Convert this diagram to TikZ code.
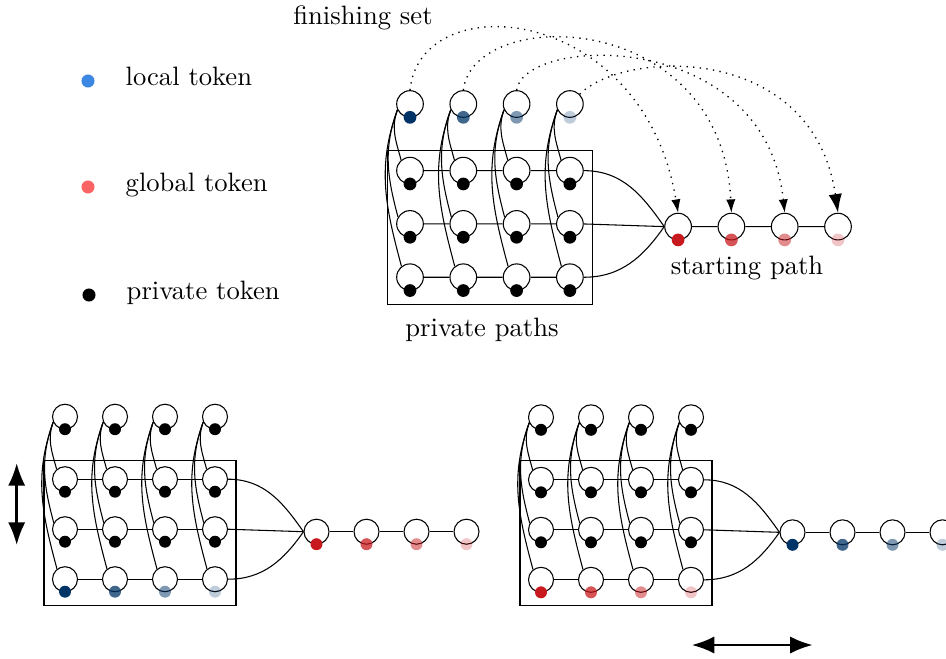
\documentclass[tikz,border=0pt]{standalone}
\usetikzlibrary{arrows.meta,positioning}

\definecolor{localblue}{RGB}{60,135,225}
\definecolor{globalred}{RGB}{255,100,100}
\definecolor{localdark}{RGB}{0,51,102}
\definecolor{globaldark}{RGB}{200,25,30}

% one set of paths: #1 name, then colour and fade step for the finishing set (#2,#3),
% the last private path (#4,#5) and the starting path (#6,#7)
\newcommand\tokengrid[7]{
  \draw (-0.42,0.87) rectangle (3.42,3.77);
  \foreach \i in {1,...,4}{
    \node[place] (#1f\i) at (\i-1,0) {};
    \node[place] (#1p1\i) at (\i-1,1.25) {};
    \node[place] (#1p2\i) at (\i-1,2.25) {};
    \node[place] (#1p3\i) at (\i-1,3.25) {};
    \node[place] (#1s\i) at (\i+4.03,2.3) {};
  }
  \foreach \j in {1,2,3}
    \draw (#1p\j1) -- (#1p\j2) -- (#1p\j3) -- (#1p\j4);
  \foreach \i in {1,...,4}{
    \draw (#1f\i.205) to[out=250,in=105] (#1p1\i.130);
    \draw (#1f\i.205) to[out=250,in=105] (#1p2\i.150);
    \draw (#1f\i.205) to[out=250,in=105] (#1p3\i.128);
  }
  \draw (#1p14.east) to[out=0,in=125] (#1s1.west);
  \draw (#1p24.east) -- (#1s1.west);
  \draw (#1p34.east) to[out=0,in=235] (#1s1.west);
  \draw (#1s1) -- (#1s2) -- (#1s3) -- (#1s4);
  \foreach \i in {1,...,4}{
    \pgfmathsetmacro\fadeA{1-#3*(\i-1)}
    \pgfmathsetmacro\fadeB{1-#5*(\i-1)}
    \pgfmathsetmacro\fadeC{1-#7*(\i-1)}
    \node[token,fill=#2,fill opacity=\fadeA] (#1ft\i) at (\i-1,0.25) {};
    \node[token,fill=black] (#1p1t\i) at (\i-1,1.5) {};
    \node[token,fill=black] (#1p2t\i) at (\i-1,2.5) {};
    \node[token,fill=#4,fill opacity=\fadeB] (#1p3t\i) at (\i-1,3.5) {};
    \node[token,fill=#6,fill opacity=\fadeC] (#1st\i) at (\i+4.03,2.55) {};
  }
}

\begin{document}
\begin{tikzpicture}[x=0.376pt,y=-0.376pt,>=Latex]
  \tikzstyle{place}=[circle,draw,minimum size=9.4pt,inner sep=0pt]
  \tikzstyle{token}=[circle,minimum size=4.5pt,inner sep=0pt]
  \tikzstyle{hop}=[dotted,line width=0.5pt,-{Latex[length=5pt,width=3.5pt]}]
  \tikzstyle{moveline}=[{Latex[length=8.5pt,width=6.5pt]}-{Latex[length=8.5pt,width=6.5pt]},line width=1pt]
  \useasboundingbox (0,0) rectangle (946,658);

  % legend
  \node[token,minimum size=4.9pt,fill=localblue] (legloc) at (88,81) {};
  \node[right=8pt of legloc,anchor=mid west,yshift=0.5pt] (legloctext) {local token};
  \node[token,minimum size=4.9pt,fill=globalred] (legglob) at (88,187) {};
  \node[right=8pt of legglob,anchor=mid west,yshift=0.5pt] (legglobtext) {global token};
  \node[token,minimum size=4.9pt,fill=black] (legpriv) at (89,295) {};
  \node[right=8pt of legpriv,anchor=mid west,yshift=0.5pt] (legprivtext) {private token};

  % top: the whole picture
  \begin{scope}[shift={(410,104)},x=18.8pt,y=-18.8pt,scale=1.066,transform shape]
    \tokengrid{t}{localdark}{.25}{black}{0}{globaldark}{.25}
  \end{scope}
  \node (finlabel) at (363,18) {finishing set};
  \node (startlabel) at (747,268) {starting path};
  \node (privlabel) at (482,330) {private paths};
  \draw[hop] (tf1.north) .. controls +(10,-105) and +(-35,-210) .. (ts1.north);
  \draw[hop] (tf2.north) .. controls +(10,-85) and +(-10,-205) .. (ts2.north);
  \draw[hop] (tf3.north) .. controls +(8,-55) and +(-20,-185) .. (ts3.north);
  \draw[hop,-{Latex[length=7pt,width=5pt]}] (tf4.45) .. controls +(45,-45) and +(-25,-170) .. (ts4.north);

  % bottom: two steps
  \begin{scope}[shift={(65,416.7)},x=18.8pt,y=-18.8pt]
    \tokengrid{l}{black}{0}{localdark}{.25}{globaldark}{.25}
  \end{scope}
  \begin{scope}[shift={(541,417.3)},x=18.8pt,y=-18.8pt]
    \tokengrid{r}{black}{0}{globaldark}{.25}{localdark}{.25}
  \end{scope}
  \coordinate (vtop) at (16.7,463);
  \coordinate (vbot) at (16.7,545);
  \draw[moveline] (vtop) -- (vbot);
  \coordinate (hleft) at (691.7,645);
  \coordinate (hright) at (812.7,645);
  \draw[moveline] (hleft) -- (hright);
\end{tikzpicture}
\end{document}
